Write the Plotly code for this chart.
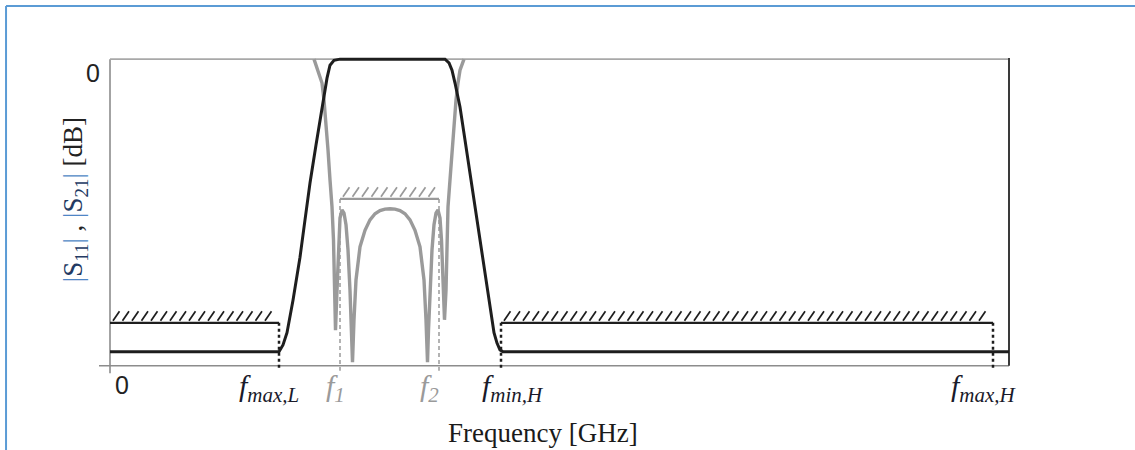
import numpy as np
import plotly.graph_objects as go

# ---- transmission |S21| (dB) versus frequency ----
s21_freq = [0.00, 1.69, 1.73, 1.77, 1.83, 1.90, 1.95, 2.00, 2.06, 2.12, 2.17, 2.20, 2.24, 2.30,
            3.35, 3.39, 3.42, 3.45, 3.50, 3.55, 3.60, 3.65, 3.70, 3.75, 3.80, 3.84, 3.87, 3.90, 3.93, 8.99]
s21_db = [-47.7, -47.7, -46.6, -44.6, -39.3, -32.3, -26.2, -20.2, -14.0, -7.8, -3.1, -1.0, -0.2, 0.0,
          0.0, -0.6, -1.8, -3.9, -7.8, -13.2, -18.6, -24.1, -29.5, -35.0, -40.4, -44.6, -46.3, -47.4, -47.7, -47.7]

# ---- reflection |S11| (dB) versus frequency ----
s11_freq = [2.04, 2.08, 2.12, 2.14, 2.16, 2.18, 2.20, 2.22, 2.235, 2.245,
            2.255, 2.27, 2.285, 2.30, 2.32, 2.34, 2.36, 2.38, 2.40, 2.415,
            2.425, 2.44, 2.46, 2.50, 2.55, 2.60, 2.65, 2.70, 2.75, 2.80,
            2.85, 2.90, 2.95, 3.00, 3.05, 3.10, 3.14, 3.16, 3.175, 3.185,
            3.20, 3.22, 3.24, 3.26, 3.28, 3.30, 3.315, 3.33, 3.345, 3.36,
            3.37, 3.38, 3.40, 3.42, 3.44, 3.46, 3.48, 3.50, 3.54]
s11_db = [0.0, -1.8, -3.9, -6.7, -10.4, -14.8, -19.7, -24.1, -29.5, -37.7,
          -44.2, -37.7, -29.5, -25.9, -24.6, -25.1, -27.0, -31.1, -37.7, -44.2,
          -49.4, -42.5, -36.0, -30.6, -27.9, -26.2, -25.2, -24.7, -24.45, -24.4,
          -24.45, -24.7, -25.2, -26.2, -27.9, -30.6, -36.0, -42.5, -49.4, -44.2,
          -37.7, -31.1, -27.0, -25.1, -24.6, -25.9, -29.5, -37.7, -42.5, -37.7,
          -29.5, -24.1, -19.7, -14.8, -10.4, -6.7, -3.9, -1.8, 0.0]

# ---- specification masks: (start, stop, level dB) ----
stop_mask_start = [0.00, 3.91]
stop_mask_stop = [1.69, 8.83]
stop_mask_level = [-43.0, -43.0]
pass_mask_start = [2.30]
pass_mask_stop = [3.29]
pass_mask_level = [-22.8]

# ---- marked frequencies ----
edge_names = ["<i>f</i><sub><i>max,L</i></sub>", "<i>f</i><sub><i>1</i></sub>", "<i>f</i><sub><i>2</i></sub>",
              "<i>f</i><sub><i>min,H</i></sub>", "<i>f</i><sub><i>max,H</i></sub>"]
edge_freq = [1.69, 2.30, 3.29, 3.91, 8.83]
edge_from_db = [-43.0, -22.8, -22.8, -43.0, -43.0]
edge_label_x = [1.59, 2.25, 3.19, 4.03, 8.74]
edge_is_pass = [False, True, True, False, False]

BLACK = "#1e1e1e"
GREY = "#9a9a9a"
AXIS = "#8c8c8c"

fig = go.Figure()

# hatched mask lines
def add_mask(x0, x1, lvl, color, width):
    fig.add_trace(go.Scatter(x=[x0, x1], y=[lvl, lvl], mode="lines",
                             line=dict(color=color, width=width), hoverinfo="skip", showlegend=False))
    hx, hy = [], []
    for s in np.arange(x0 + 0.03, x1 - 0.05, 0.095):
        hx += [s, s + 0.065, None]
        hy += [lvl + 0.35, lvl + 1.9, None]
    fig.add_trace(go.Scatter(x=hx, y=hy, mode="lines", line=dict(color=color, width=1.7),
                             hoverinfo="skip", showlegend=False))

for a, b, lvl in zip(stop_mask_start, stop_mask_stop, stop_mask_level):
    add_mask(a, b, lvl, BLACK, 2.2)
for a, b, lvl in zip(pass_mask_start, pass_mask_stop, pass_mask_level):
    add_mask(a, b, lvl, GREY, 2.2)

# dashed frequency markers
for f, top, is_pass in zip(edge_freq, edge_from_db, edge_is_pass):
    fig.add_trace(go.Scatter(x=[f, f], y=[top, -50.8], mode="lines",
                             line=dict(color=GREY if is_pass else BLACK,
                                       width=1.5 if is_pass else 2.5,
                                       dash="4px,3px" if is_pass else "3px,3px"),
                             hoverinfo="skip", showlegend=False))

# frame
fig.add_shape(type="line", x0=-0.11, x1=8.99, y0=-50, y1=-50, line=dict(color=AXIS, width=1.6), layer="below")
fig.add_shape(type="line", x0=0, x1=0, y0=0, y1=-51.2, line=dict(color=AXIS, width=1.6), layer="below")
fig.add_shape(type="line", x0=0, x1=8.99, y0=0, y1=0, line=dict(color="#a8a8a8", width=1.6), layer="below")
fig.add_shape(type="line", x0=8.99, x1=8.99, y0=0.2, y1=-50, line=dict(color="#3a3a3a", width=2), layer="below")

# responses
fig.add_trace(go.Scatter(x=s11_freq, y=s11_db, mode="lines", line=dict(color=GREY, width=3.4),
                         hoverinfo="skip", showlegend=False))
fig.add_trace(go.Scatter(x=s21_freq, y=s21_db, mode="lines", line=dict(color=BLACK, width=3),
                         hoverinfo="skip", showlegend=False))

# outer border
fig.add_shape(type="line", xref="paper", yref="paper", x0=-0.0967, x1=1.14, y0=1.146, y1=1.146,
              line=dict(color="#5b9bd5", width=2))
fig.add_shape(type="line", xref="paper", yref="paper", x0=-0.0967, x1=-0.0967, y0=1.146, y1=-0.25,
              line=dict(color="#5b9bd5", width=2))

# labels
for name, lx, is_pass in zip(edge_names, edge_label_x, edge_is_pass):
    fig.add_annotation(x=lx, y=0.026, xref="x", yref="paper", text=name, showarrow=False,
                       xanchor="center", yanchor="top",
                       font=dict(family="Liberation Serif", size=30, color=GREY if is_pass else "#1a1a2a"))

fig.add_annotation(x=-0.002, y=0.938, xref="paper", yref="paper", text="0", showarrow=False,
                   xanchor="center", yanchor="middle",
                   font=dict(family="Liberation Sans", size=25, color="#222"))
fig.add_annotation(x=0.12, y=-0.031, xref="x", yref="paper", text="0", showarrow=False,
                   xanchor="center", yanchor="middle",
                   font=dict(family="Liberation Sans", size=25, color="#222"))
fig.add_annotation(x=4.33, y=-0.18, xref="x", yref="paper", text="Frequency [GHz]", showarrow=False,
                   xanchor="center", yanchor="middle",
                   font=dict(family="Liberation Serif", size=27, color="#1a1a1a"))
ylab = ("<span style='color:#4f86c6'>|</span><span style='color:#233a63'>S<sub>11</sub></span>"
        "<span style='color:#4f86c6'>|</span> , "
        "<span style='color:#4f86c6'>|</span><span style='color:#233a63'>S<sub>21</sub></span>"
        "<span style='color:#4f86c6'>|</span> [dB]")
fig.add_annotation(x=-0.0217, y=0.543, xref="paper", yref="paper", text=ylab, showarrow=False,
                   textangle=-90, xanchor="center", yanchor="middle",
                   font=dict(family="Liberation Serif", size=27, color="#222"))

fig.update_xaxes(range=[-0.15, 9.05], visible=False)
fig.update_yaxes(range=[-51.5, 1.0], visible=False)
fig.update_layout(width=1135, height=450, margin=dict(l=95, r=120, t=53, b=75),
                  plot_bgcolor="white", paper_bgcolor="white")

fig.write_html("out.html")
